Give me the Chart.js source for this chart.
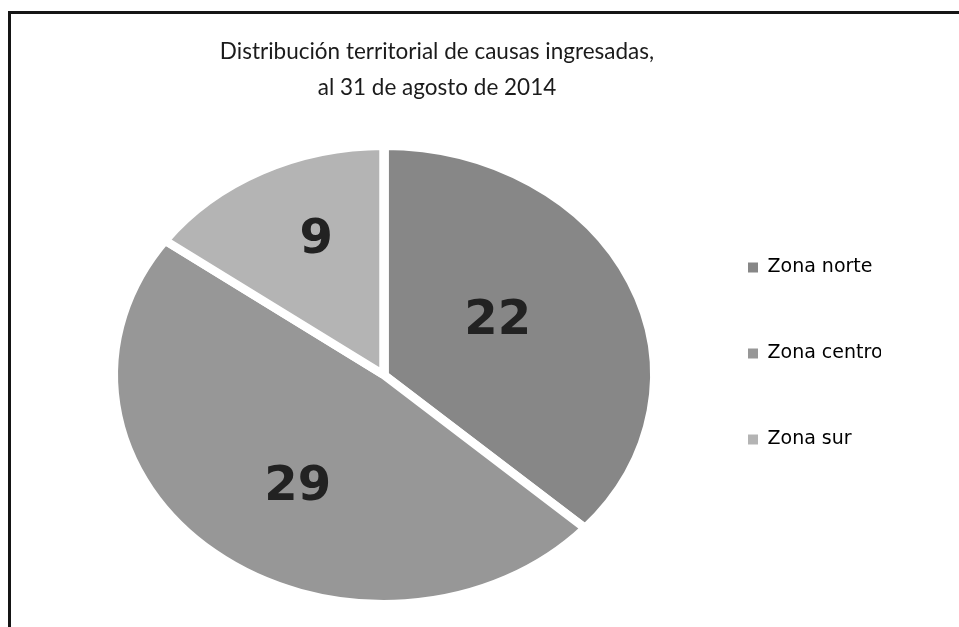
<!DOCTYPE html>
<html>
<head>
<meta charset="utf-8">
<script src="https://cdn.jsdelivr.net/npm/chart.js@4.4.0/dist/chart.umd.min.js"></script>
<style>
  html, body { margin: 0; padding: 0; background: #fff; }
  #wrap { position: relative; width: 959px; height: 627px; overflow: hidden; }
  #marco { position: absolute; left: 8px; top: 11px; width: 1000px; height: 700px;
           border-left: 3px solid #151515; border-top: 3px solid #151515; }
  canvas { position: absolute; left: 0; top: 0; }
</style>
</head>
<body>
<div id="wrap">
  <div id="marco"></div>
  <canvas id="graf_zonas" width="959" height="627"></canvas>
</div>
<script>
const zonas = ['Zona norte', 'Zona centro', 'Zona sur']
const causas = [22, 29, 9]
const titulo = ['Distribución territorial de causas ingresadas,', 'al 31 de agosto de 2014']

const colores = ['#878787', '#979797', '#b4b4b4']
const estiramiento = 1.182 // la torta original sale ovalada
const corrimiento = -53   // la torta queda a la izquierda del titulo
// ubicacion de los numeros: fraccion del radio y giro en grados
const radioEtiqueta = [0.48, 0.585, 0.64]
const giroEtiqueta = [-5, -6, 4]

// estira la torta en horizontal y la corre a la izquierda
const ovalo = {
    id: 'ovalo',
    beforeDatasetsDraw(chart) {
        const ctx = chart.ctx
        const a = chart.chartArea
        const cx = (a.left + a.right) / 2
        ctx.save()
        ctx.translate(cx + corrimiento, 0)
        ctx.scale(estiramiento, 1)
        ctx.translate(-cx, 0)
    },
    afterDatasetsDraw(chart) {
        chart.ctx.restore()
    }
}

// numeros dentro de cada trozo
const etiquetas = {
    id: 'etiquetas',
    afterDraw(chart) {
        const ctx = chart.ctx
        const meta = chart.getDatasetMeta(0)
        ctx.save()
        ctx.font = 'bold 48px "DejaVu Sans"'
        ctx.fillStyle = '#222222'
        ctx.textAlign = 'center'
        ctx.textBaseline = 'middle'
        meta.data.forEach((arc, i) => {
            const p = arc.getProps(['x', 'y', 'startAngle', 'endAngle', 'outerRadius'], true)
            const mid = (p.startAngle + p.endAngle) / 2 + giroEtiqueta[i] * Math.PI / 180
            const r = p.outerRadius * radioEtiqueta[i]
            ctx.fillText(String(causas[i]), p.x + corrimiento + Math.cos(mid) * r * estiramiento, p.y + Math.sin(mid) * r)
        })
        ctx.restore()
    }
}

const ctx = document.getElementById('graf_zonas').getContext('2d')
const chart = new Chart(ctx, {
    type: 'pie',
    data: {
        labels: zonas,
        datasets: [{
            data: causas,
            backgroundColor: colores,
            borderColor: '#ffffff',
            borderWidth: 8,
            borderJoinStyle: 'bevel',
            radius: 229
        }]
    },
    options: {
        responsive: false,
        animation: false,
        events: [],
        layout: { padding: { left: 193, right: 78, top: 10, bottom: 68 } },
        plugins: {
            title: {
                display: true,
                fullSize: false,
                text: titulo,
                color: '#1b1b1b',
                font: { family: 'Lato', size: 22.5, weight: 'normal', lineHeight: 1.6 },
                padding: { top: 24, bottom: 85 }
            },
            legend: {
                position: 'right',
                align: 'start',
                fullSize: false,
                maxWidth: 200,
                labels: {
                    boxWidth: 10,
                    boxHeight: 10,
                    padding: 67,
                    color: '#1b1b1b',
                    font: { family: 'DejaVu Sans', size: 19 },
                    generateLabels: (c) => zonas.map((z, i) => ({
                        text: z,
                        fillStyle: colores[i],
                        strokeStyle: colores[i],
                        lineWidth: 0,
                        hidden: false,
                        index: i
                    }))
                }
            },
            tooltip: { enabled: false }
        }
    },
    plugins: [ovalo, etiquetas]
})
</script>
</body>
</html>
